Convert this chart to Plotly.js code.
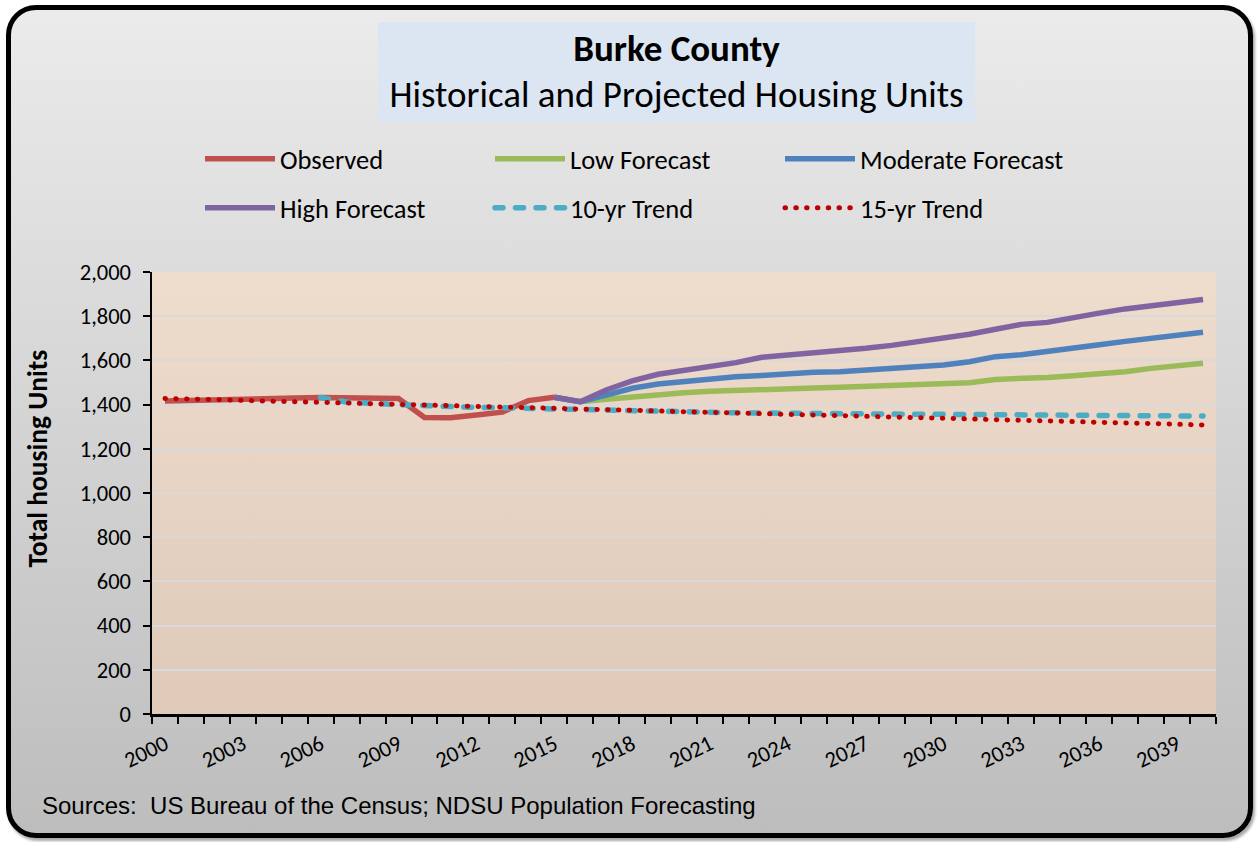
<!DOCTYPE html>
<html><head><meta charset="utf-8">
<script src="https://cdn.plot.ly/plotly-3.0.1.min.js"></script>
<style>
html,body{margin:0;padding:0;background:#fff;}
#wrap{position:relative;width:1258px;height:842px;overflow:hidden;}
#frame{position:absolute;left:6px;top:5px;width:1237px;height:823px;border:5px solid #000;border-radius:30px;background:linear-gradient(#ebebeb,#bdbdbd);box-shadow:2px 3px 3px rgba(0,0,0,0.35);}
#chart{position:absolute;left:0;top:0;width:1258px;height:842px;}
</style></head>
<body>
<div id="wrap"><div id="frame"></div><div id="chart"></div></div>
<script>
// ---- data ----
const allYears = [2000,2001,2002,2003,2004,2005,2006,2007,2008,2009,2010,2011,2012,2013,2014,2015,2016,2017,2018,2019,2020,2021,2022,2023,2024,2025,2026,2027,2028,2029,2030,2031,2032,2033,2034,2035,2036,2037,2038,2039,2040];
const obsYears = [2000,2001,2002,2003,2004,2005,2006,2007,2008,2009,2010,2011,2012,2013,2014,2015];
const observed = [1416,1420,1423,1425,1428,1430,1432,1430,1428,1428,1342,1341,1353,1366,1418,1433];
const fcYears = [2015,2016,2017,2018,2019,2020,2021,2022,2023,2024,2025,2026,2027,2028,2029,2030,2031,2032,2033,2034,2035,2036,2037,2038,2039,2040];
const lowForecast = [1433,1413,1424,1436,1445,1454,1460,1465,1468,1474,1475,1478,1481,1484,1490,1492,1499,1514,1517,1523,1531,1538,1549,1564,1573,1587];
const moderateForecast = [1433,1413,1443,1474,1493,1504,1519,1526,1532,1542,1546,1549,1557,1564,1573,1579,1594,1617,1626,1639,1656,1671,1686,1700,1715,1727];
const highForecast = [1433,1413,1466,1507,1537,1553,1572,1590,1614,1624,1633,1641,1655,1668,1683,1698,1718,1741,1763,1772,1795,1814,1833,1849,1863,1876];
const trend10Years = [2006,2007,2008,2009,2010,2011,2012,2013,2014,2015,2016,2017,2018,2019,2020,2021,2022,2023,2024,2025,2026,2027,2028,2029,2030,2031,2032,2033,2034,2035,2036,2037,2038,2039,2040];
const trend10 = [1432,1412,1405,1399,1395,1391,1388,1385,1382,1379,1376,1372,1370,1368,1366,1365,1363,1362,1360,1359,1358,1357,1357,1356,1356,1355,1354,1354,1353,1352,1351,1350,1349,1349,1348];
const trend15 = [1428,1425,1422,1419,1416,1413,1410,1406,1404,1401,1397,1395,1391,1388,1385,1382,1379,1376,1373,1370,1367,1364,1361,1358,1355,1352,1350,1347,1344,1341,1338,1335,1332,1329,1326,1323,1320,1317,1314,1311,1308];
const labelYears = [2000,2003,2006,2009,2012,2015,2018,2021,2024,2027,2030,2033,2036,2039];
const boundaryTicks = [1999.5,2000.5,2001.5,2002.5,2003.5,2004.5,2005.5,2006.5,2007.5,2008.5,2009.5,2010.5,2011.5,2012.5,2013.5,2014.5,2015.5,2016.5,2017.5,2018.5,2019.5,2020.5,2021.5,2022.5,2023.5,2024.5,2025.5,2026.5,2027.5,2028.5,2029.5,2030.5,2031.5,2032.5,2033.5,2034.5,2035.5,2036.5,2037.5,2038.5,2039.5,2040.5];

const FONT = 'Carlito, Calibri, Lato, "Open Sans", sans-serif';
const W = 5.5;

const traces = [
  {name:'Observed', x:obsYears, y:observed, mode:'lines', line:{color:'#c0504d', width:W}, legend:'legend'},
  {name:'Low Forecast', x:fcYears, y:lowForecast, mode:'lines', line:{color:'#9bbb59', width:W}, legend:'legend'},
  {name:'Moderate Forecast', x:fcYears, y:moderateForecast, mode:'lines', line:{color:'#4f81bd', width:W}, legend:'legend'},
  {name:'High Forecast', x:fcYears, y:highForecast, mode:'lines', line:{color:'#8064a2', width:W}, legend:'legend2'},
  {name:'10-yr Trend', x:trend10Years, y:trend10, mode:'lines', line:{color:'#4bacc6', width:5.5, dash:'8px,12.5px'}, legend:'legend2'},
  {name:'15-yr Trend', x:allYears, y:trend15, mode:'lines', line:{color:'#c00000', width:5, dash:'0.5px,10.3px'}, legend:'legend2'},
  {name:'labels', x:labelYears, y:labelYears.map(()=>null), xaxis:'x2', mode:'lines', showlegend:false, hoverinfo:'skip'}
];

const svgGrad = "<svg xmlns='http://www.w3.org/2000/svg' width='100' height='100' preserveAspectRatio='none'><defs><linearGradient id='g' x1='0' y1='0' x2='0' y2='1'><stop offset='0' stop-color='#eedccd'/><stop offset='1' stop-color='#dfcab9'/></linearGradient></defs><rect width='100' height='100' fill='url(#g)'/></svg>";

const legendCommon = {orientation:'h', xref:'container', yref:'container', xanchor:'left', yanchor:'middle',
  bgcolor:'rgba(0,0,0,0)', font:{family:FONT, size:26.5, color:'#000'}, entrywidthmode:'pixels', entrywidth:205, itemwidth:70, traceorder:'normal'};

const layout = {
  width:1258, height:842,
  paper_bgcolor:'rgba(0,0,0,0)', plot_bgcolor:'rgba(0,0,0,0)',
  margin:{l:152, r:42, t:272, b:128},
  font:{family:FONT, color:'#000'},
  title:{text:"<span style='font-size:37px'><b>Burke County</b></span><br><span style='font-size:37px'>Historical and Projected Housing Units</span>",
    font:{family:FONT, size:35, color:'#000'}, xref:'container', x:676.5/1258, xanchor:'center', yref:'container', y:1-61/842, yanchor:'top'},
  xaxis:{range:[1999.5,2040.5], tickvals:boundaryTicks, showticklabels:false, ticks:'outside', ticklen:7, tickwidth:2, tickcolor:'#000',
    showline:true, linecolor:'#000', linewidth:2.5, showgrid:false, zeroline:false, fixedrange:true},
  xaxis2:{overlaying:'x', side:'bottom', range:[1999.5,2040.5], tickvals:labelYears, ticktext:labelYears.map(String), ticks:'',
    tickangle:-26, tickfont:{family:FONT, size:22.5, color:'#000'}, showline:false, showgrid:false, zeroline:false, fixedrange:true, ticklabelstandoff:12},
  yaxis:{range:[0,2000], dtick:200, tick0:0, tickformat:',d', ticks:'outside', ticklen:7, tickwidth:2, tickcolor:'#000',
    showline:true, linecolor:'#000', linewidth:2.5, showgrid:true, gridcolor:'#d9d9d9', gridwidth:2, zeroline:false,
    tickfont:{family:FONT, size:22.5, color:'#000'}, fixedrange:true, ticklabelstandoff:7,
    title:{text:'<span>\u2003\u2003\u2002</span><b>Total housing Units</b>', font:{family:FONT, size:27.5, color:'#000'}, standoff:24}},
  legend:Object.assign({}, legendCommon, {x:200/1258, y:1-159/842}),
  legend2:Object.assign({}, legendCommon, {x:200/1258, y:1-208/842}),
  images:[{source:'data:image/svg+xml;charset=utf-8,'+encodeURIComponent(svgGrad), xref:'paper', yref:'paper', x:0, y:1, sizex:1, sizey:1, sizing:'stretch', layer:'below'}],
  shapes:[{type:'rect', xref:'paper', yref:'paper', x0:(378-152)/1064, x1:(975-152)/1064, y0:(714-122)/442, y1:(714-22)/442, fillcolor:'#dce6f2', line:{width:0}, layer:'below'}],
  annotations:[{text:'Sources:\u00a0 US Bureau of the Census; NDSU Population Forecasting', xref:'paper', yref:'paper', x:(40-152)/1064, y:(714-805)/442,
    xanchor:'left', yanchor:'middle', showarrow:false, font:{family:'"Liberation Sans", Arial, sans-serif', size:24, color:'#000'}}],
  showlegend:true
};

Plotly.newPlot('chart', traces, layout, {staticPlot:true, displayModeBar:false}).then(function(gd){
  gd.querySelectorAll('path.js-line').forEach(function(p){
    var da = p.style.strokeDasharray;
    if (da && da !== 'none' && da !== '') { p.style.strokeLinecap = 'round'; }
  });
});
</script>
</body></html>
